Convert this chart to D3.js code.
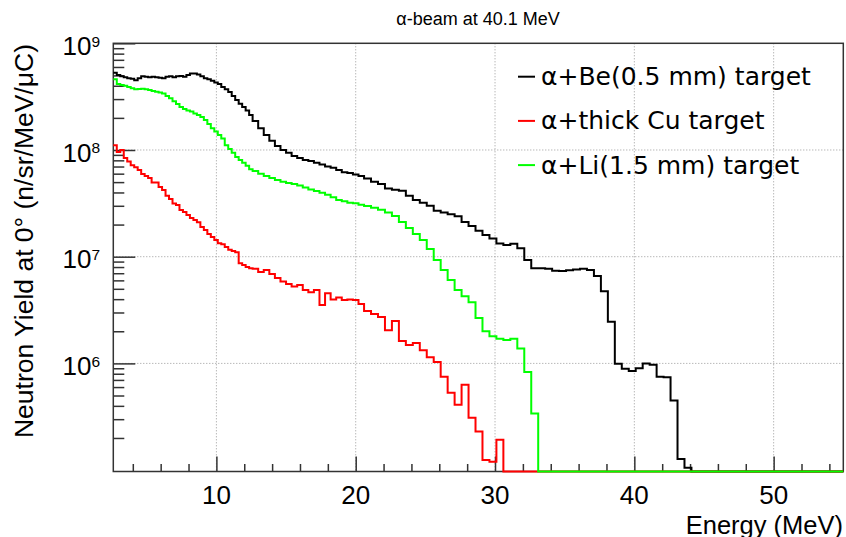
<!DOCTYPE html>
<html>
<head>
<meta charset="utf-8">
<script src="https://cdn.jsdelivr.net/npm/d3@7"></script>
<style>
body { margin: 0; background: #fff; }
text { font-family: "Liberation Sans", Arial, sans-serif; fill: #000; }
</style>
</head>
<body>
<svg id="svg"></svg>
<script>
// bin edges (MeV), variable width like the TOF binning
var binEdges = [2.6, 2.85, 3.1, 3.35, 3.6, 3.85, 4.1, 4.35, 4.6, 4.85, 5.1, 5.35, 5.6, 5.85, 6.1, 6.35,
	6.6, 6.85, 7.1, 7.35, 7.6, 7.85, 8.1, 8.35, 8.6, 8.85, 9.1, 9.35, 9.6, 9.85, 10.1, 10.35, 10.6, 10.85,
	11.1, 11.35, 11.6, 11.85, 12.1, 12.35,
	12.6, 13.0, 13.4, 13.8, 14.2, 14.6, 15.0, 15.4, 15.8, 16.2, 16.6, 17.0, 17.4, 17.8, 18.2, 18.6, 19.0,
	19.4, 19.8, 20.2,
	20.6, 21.1, 21.6, 22.1, 22.6, 23.1, 23.6, 24.1, 24.6, 25.1, 25.6, 26.1, 26.6, 27.1, 27.6, 28.1, 28.6,
	29.1, 29.6, 30.1, 30.6, 31.1, 31.6, 32.1, 32.6, 33.1, 33.6, 34.1, 34.6, 35.1, 35.6, 36.1, 36.6, 37.1,
	37.6, 38.1, 38.6, 39.1, 39.6, 40.1, 40.6, 41.1, 41.6, 42.1, 42.6, 43.1, 43.6, 44.1, 44.6, 45.1, 55];

var beYield = [5.3e8, 5.05e8, 4.9e8, 4.8e8, 4.7e8, 4.65e8, 4.5e8, 4.7e8, 4.9e8, 4.85e8, 4.8e8, 4.85e8,
	4.8e8, 4.75e8, 4.7e8, 4.85e8, 4.9e8, 4.8e8, 4.9e8, 4.95e8, 4.85e8, 5.05e8, 5.2e8, 5.2e8, 5.1e8, 4.9e8,
	4.7e8, 4.6e8, 4.45e8, 4.3e8, 4.15e8, 3.9e8, 3.7e8, 3.5e8, 3.2e8, 2.94e8, 2.72e8, 2.53e8, 2.35e8, 2.13e8,
	1.87e8, 1.6e8, 1.38e8, 1.22e8, 1.09e8, 1.0e8, 9.4e7, 8.8e7, 8.4e7, 8.06e7, 7.9e7, 7.6e7, 7.3e7, 7.0e7,
	6.8e7, 6.5e7, 6.2e7, 6.1e7, 5.9e7, 5.7e7,
	5.4e7, 5.05e7, 4.8e7, 4.35e7, 4.25e7, 4.15e7, 3.72e7, 3.4e7, 3.2e7, 3.0e7, 2.7e7, 2.6e7, 2.5e7, 2.4e7,
	2.12e7, 1.94e7, 1.75e7, 1.6e7, 1.48e7, 1.33e7, 1.29e7, 1.32e7, 1.2e7, 9.3e6, 7.8e6, 7.8e6, 7.7e6, 7.4e6,
	7.35e6, 7.45e6, 7.6e6, 7.7e6, 7.5e6, 6.6e6, 4.75e6, 2.45e6, 9.9e5, 8.9e5, 8.5e5, 9.0e5, 1.0e6, 9.7e5,
	7.5e5, 7.4e5, 4.5e5, 1.27e5, 1.05e5, 0, 0, 0];

var cuYield = [1.11e8, 9.6e7, 1.0e8, 8.4e7, 7.8e7, 7.2e7, 6.9e7, 6.5e7, 5.95e7, 5.7e7, 5.45e7, 4.97e7,
	4.97e7, 4.5e7, 4.22e7, 3.72e7, 3.47e7, 3.15e7, 3.05e7, 2.74e7, 2.62e7, 2.46e7, 2.3e7, 2.21e7, 2.1e7,
	1.9e7, 1.78e7, 1.63e7, 1.53e7, 1.43e7, 1.34e7, 1.31e7, 1.23e7, 1.16e7, 1.13e7, 1.1e7, 8.7e6, 8.36e6,
	8.0e6, 7.8e6,
	7.7e6, 7.2e6, 7.5e6, 6.9e6, 6.3e6, 5.85e6, 5.55e6, 5.25e6, 5.43e6, 4.87e6, 4.65e6, 4.87e6, 3.52e6,
	4.55e6, 3.98e6, 4.15e6, 3.93e6, 3.98e6, 3.93e6, 3.6e6,
	3.1e6, 2.9e6, 2.72e6, 2.05e6, 2.5e6, 1.62e6, 1.49e6, 1.55e6, 1.33e6, 1.14e6, 1.03e6, 7.5e5, 5.3e5,
	4.1e5, 6.3e5, 3.1e5, 2.3e5, 1.24e5, 1.2e5, 1.92e5, 0, 0, 0, 0, 0, 0, 0, 0, 0, 0, 0, 0, 0, 0, 0, 0, 0,
	0, 0, 0, 0, 0, 0, 0, 0, 0, 0, 0, 0, 0];

var liYield = [4.6e8, 4.15e8, 4.07e8, 4.0e8, 3.9e8, 3.8e8, 3.7e8, 3.72e8, 3.76e8, 3.7e8, 3.65e8, 3.57e8,
	3.52e8, 3.45e8, 3.38e8, 3.2e8, 3.06e8, 2.87e8, 2.7e8, 2.53e8, 2.42e8, 2.35e8, 2.3e8, 2.2e8, 2.13e8,
	2.04e8, 1.91e8, 1.75e8, 1.6e8, 1.49e8, 1.38e8, 1.28e8, 1.11e8, 1.02e8, 9.4e7, 8.6e7, 8.06e7, 7.6e7,
	7.1e7, 6.6e7,
	6.35e7, 6.0e7, 5.7e7, 5.45e7, 5.23e7, 5.05e7, 4.9e7, 4.8e7, 4.65e7, 4.45e7, 4.27e7, 4.12e7, 3.98e7,
	3.8e7, 3.6e7, 3.4e7, 3.3e7, 3.2e7, 3.17e7, 3.07e7,
	2.98e7, 2.88e7, 2.75e7, 2.6e7, 2.41e7, 2.12e7, 1.86e7, 1.63e7, 1.43e7, 1.18e7, 9.3e6, 7.5e6, 6.05e6,
	4.87e6, 4.27e6, 3.75e6, 2.66e6, 2.0e6, 1.8e6, 1.7e6, 1.66e6, 1.7e6, 1.38e6, 8.3e5, 3.4e5, 0, 0, 0, 0,
	0, 0, 0, 0, 0, 0, 0, 0, 0, 0, 0, 0, 0, 0, 0, 0, 0, 0, 0, 0, 0];

var seriesNames = ["α+Be(0.5 mm) target", "α+thick Cu target", "α+Li(1.5 mm) target"];
var xTicks = [10, 20, 30, 40, 50];
var yTicks = [1e6, 1e7, 1e8, 1e9];

var width = 846, height = 537;
var svg = d3.select("#svg")
	.attr("width", width)
	.attr("height", height);

var x = d3.scaleLinear()
	.domain([2.6, 55])
	.range([113.3, 843.3]);

var y = d3.scaleLog()
	.domain([9.7e4, 1e9])
	.range([471.5, 43.3]);

var color = d3.scaleOrdinal()
	.domain(seriesNames)
	.range(["#000000", "#ff0000", "#00ff00"]);

var x0 = x.range()[0], x1 = x.range()[1], yb = y.range()[0], yt = y.range()[1];

// grid
var grid = svg.append("g")
	.attr("stroke", "#999")
	.attr("stroke-width", 1)
	.attr("stroke-dasharray", "1,2");
grid.selectAll("line.gx")
	.data(xTicks)
	.enter().append("line")
	.attr("x1", function(d) { return x(d); })
	.attr("x2", function(d) { return x(d); })
	.attr("y1", yt)
	.attr("y2", yb);
grid.selectAll("line.gy")
	.data(yTicks.slice(0, 3))
	.enter().append("line")
	.attr("x1", x0)
	.attr("x2", x1)
	.attr("y1", function(d) { return y(d); })
	.attr("y2", function(d) { return y(d); });

// x axis ticks (inside)
var xMinor = d3.range(4, 56, 2).filter(function(d) { return d % 10 !== 0; });
function styleAxis(g) {
	g.select(".domain").remove();
	g.selectAll(".tick line").attr("stroke", "#333").attr("stroke-width", 1.5);
}
svg.append("g")
	.attr("transform", "translate(0," + yb + ")")
	.call(d3.axisBottom(x).tickValues(xTicks).tickSize(-15).tickFormat(""))
	.call(styleAxis);
svg.append("g")
	.attr("transform", "translate(0," + yb + ")")
	.call(d3.axisBottom(x).tickValues(xMinor).tickSize(-7.5).tickFormat(""))
	.call(styleAxis);

svg.selectAll("text.xl")
	.data(xTicks)
	.enter().append("text")
	.attr("x", function(d) { return x(d); })
	.attr("y", 504)
	.attr("text-anchor", "middle")
	.attr("font-size", 26)
	.text(function(d) { return d; });

// y axis ticks (inside)
var yMinor = [];
[1e5, 1e6, 1e7, 1e8].forEach(function(dec) {
	d3.range(2, 10).forEach(function(m) {
		if (dec * m > y.domain()[0]) yMinor.push(dec * m);
	});
});
svg.append("g")
	.attr("transform", "translate(" + x0 + ",0)")
	.call(d3.axisLeft(y).tickValues(yTicks).tickSize(-22).tickFormat(""))
	.call(styleAxis);
svg.append("g")
	.attr("transform", "translate(" + x0 + ",0)")
	.call(d3.axisLeft(y).tickValues(yMinor).tickSize(-11).tickFormat(""))
	.call(styleAxis);

svg.selectAll("text.yl")
	.data(yTicks)
	.enter().append("text")
	.attr("x", 100)
	.attr("y", function(d) { return y(d) + 11.7; })
	.attr("text-anchor", "end")
	.attr("font-size", 26)
	.each(function(d) {
		var t = d3.select(this);
		t.append("tspan").text("10");
		t.append("tspan").attr("dy", -8.5).attr("font-size", 15.5).text(Math.round(Math.log10(d)));
	});

// frame
svg.append("rect")
	.attr("x", x0)
	.attr("y", yt)
	.attr("width", x1 - x0)
	.attr("height", yb - yt)
	.attr("fill", "none")
	.attr("stroke", "#333")
	.attr("stroke-width", 1.5);

// histograms
function histPoints(vals) {
	var pts = vals.map(function(v, i) { return [binEdges[i], v]; });
	pts.push([binEdges[vals.length], vals[vals.length - 1]]);
	return pts;
}
var line = d3.line()
	.x(function(d) { return x(d[0]); })
	.y(function(d) { return d[1] > y.domain()[0] ? y(d[1]) : yb; })
	.curve(d3.curveStepAfter);

var series = [beYield, cuYield, liYield];
svg.append("g")
	.selectAll("path")
	.data(series)
	.enter().append("path")
	.attr("d", function(d) { return line(histPoints(d)); })
	.attr("fill", "none")
	.attr("stroke", function(d, i) { return color(seriesNames[i]); })
	.attr("stroke-width", 2)
	.attr("stroke-linejoin", "miter");

// titles
svg.append("text")
	.attr("x", 478)
	.attr("y", 25)
	.attr("text-anchor", "middle")
	.attr("font-size", 18)
	.text("α-beam at 40.1 MeV");

svg.append("text")
	.attr("x", 843)
	.attr("y", 533.5)
	.attr("text-anchor", "end")
	.attr("font-size", 25.5)
	.text("Energy (MeV)");

svg.append("text")
	.attr("transform", "translate(33,44) rotate(-90)")
	.attr("text-anchor", "end")
	.attr("font-size", 26.5)
	.text("Neutron Yield at 0° (n/sr/MeV/μC)");

// legend
var legend = svg.append("g")
	.selectAll("g")
	.data(seriesNames)
	.enter().append("g")
	.attr("transform", function(d, i) { return "translate(0," + (76.7 + i * 44.2) + ")"; });

legend.append("line")
	.attr("x1", 518)
	.attr("x2", 535)
	.attr("stroke", color)
	.attr("stroke-width", 2);

legend.append("text")
	.attr("x", 541)
	.attr("y", 8.5)
	.attr("font-size", 25)
	.style("font-family", "'DejaVu Sans', sans-serif")
	.text(function(d) { return d; });
</script>
</body>
</html>
